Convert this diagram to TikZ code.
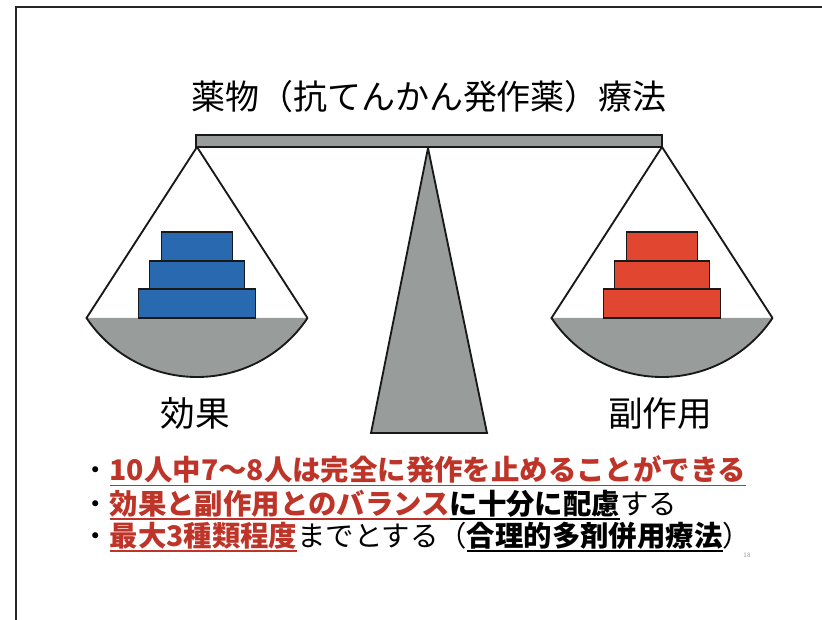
\documentclass[tikz,border=0pt]{standalone}
\usepackage{fontspec}
\newfontfamily\jpfont{Noto Sans CJK JP}
\usetikzlibrary{positioning}

\definecolor{pangray}{RGB}{152,157,156}
\definecolor{effblue}{RGB}{40,105,175}
\definecolor{sidered}{RGB}{225,70,48}
\definecolor{notered}{RGB}{190,52,40}

% thick underline that follows the current colour
\newcommand{\ulbar}[1]{\setbox0\hbox{#1}\rlap{\rule[-4.2pt]{\wd0}{1.3pt}}\box0}

\begin{document}
\begin{tikzpicture}[
  x=0.75pt, y=-0.75pt,
  every node/.style={inner sep=0pt},
  slideedge/.style={draw=black!85, line width=1.5pt},
  beamstyle/.style={draw=black!90, fill=pangray, line width=1.4pt},
  panline/.style={draw=black!90, line width=1.4pt, line join=miter},
  block/.style={draw=black!90, line width=1.1pt},
  titletxt/.style={font=\jpfont\fontsize{25.5}{28}\selectfont},
  pantxt/.style={font=\jpfont\fontsize{26}{29}\selectfont},
  note/.style={anchor=west, font=\jpfont\fontsize{21.3}{24}\selectfont},
]
\useasboundingbox (0,0) rectangle (822,620);

%---------- slide edge ----------
\draw[slideedge] (16,620) -- (16,7) -- (822,7);

%---------- title ----------
\node[titletxt] (title) at (429,97) {薬物（抗てんかん発作薬）療法};

%---------- fulcrum ----------
\coordinate (pivot) at (428,148);
\draw[beamstyle] (pivot) -- (371,433) -- (487,433) -- cycle;

%---------- pans with their stacks ----------
\foreach \cx/\col in {197/effblue, 662/sidered}{
  \coordinate (apex) at (\cx,147);
  \coordinate (pl) at ({\cx-110.5},318);
  \coordinate (pr) at ({\cx+110.5},318);
  \fill[pangray] (pl) arc[start angle=146.2, end angle=33.8, radius=133] -- cycle;
  \draw[panline] (pr) -- (apex) -- (pl) arc[start angle=146.2, end angle=33.8, radius=133];
  \foreach \hw/\yt/\yb in {58.5/289/318, 47.5/261/289, 35.5/232/261}{
    \draw[block, fill=\col] ({\cx-\hw},\yt) rectangle ({\cx+\hw},\yb);
  }
}

%---------- beam ----------
\draw[beamstyle] (196,135) rectangle (662,147);

%---------- pan captions ----------
\node[pantxt] (eff) at (195,413) {効果};
\node[pantxt] (side) at (660,413) {副作用};

%---------- notes ----------
\node[note] (l1) at (81,471)
  {・{\color{notered}\ulbar{\bfseries 10人中7〜8人は完全に発作を止めることができる}}};
\node[note] (l2) at (81,505)
  {・{\color{notered}\ulbar{\bfseries 効果と副作用とのバランス}}\ulbar{\bfseries に十分に配慮}する};
\node[note] (l3) at (81,537)
  {・{\color{notered}\ulbar{\bfseries 最大3種類程度}}までとする（\ulbar{\bfseries 合理的多剤併用療法}）};

% page number
\node[font=\sffamily\fontsize{5}{6}\selectfont, text=black!40] (pno) at (747,555) {18};

\end{tikzpicture}
\end{document}
